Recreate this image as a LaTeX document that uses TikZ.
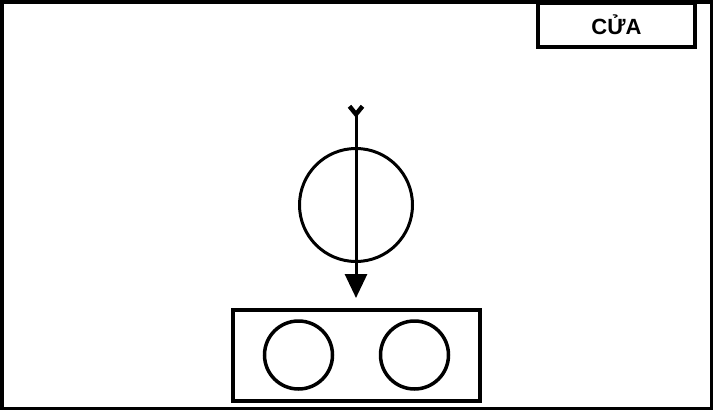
\documentclass[tikz,border=0pt]{standalone}
\usepackage{fontspec}
\setmainfont{Liberation Sans}
\usepackage{tikz}
\usetikzlibrary{arrows.meta, positioning}

\begin{document}
\begin{tikzpicture}[
  x=1pt, y=-1pt,
  wall/.style={draw,line width=3.5pt},
  door/.style={rectangle,draw,line width=3.5pt,minimum width=157pt,minimum height=44pt,font=\fontsize{22}{24}\selectfont\bfseries},
  seat/.style={circle,draw,line width=3.5pt,minimum size=68pt,inner sep=0pt},
  table/.style={circle,draw,line width=3pt,minimum size=113pt,inner sep=0pt},
  desk/.style={rectangle,draw,line width=3.5pt,minimum width=247pt,minimum height=91pt}
]

\useasboundingbox (0,0) rectangle (713,410);
\draw[wall] (1.75,1.75) rectangle (711.25,408.25);

\node[door] (cua) at (616.5,25) {\raisebox{-2pt}{CỬA}};

\node[table] (ban) at (356,205) {};

\node[desk] (ke) at (356.5,355.5) {};
\node[seat] (ghe1) at (298.5,355) {};
\node[seat] (ghe2) at (414.5,355) {};

\coordinate (dau) at (356,104);
\coordinate (cuoi) at (356,298);
\draw[line width=3pt,{Straight Barb[reversed,length=8pt,width=13pt,line width=4.5pt]}-{Triangle[length=24pt,width=22pt]},draw=black,fill=black!85] (dau) -- (cuoi);

\end{tikzpicture}
\end{document}
